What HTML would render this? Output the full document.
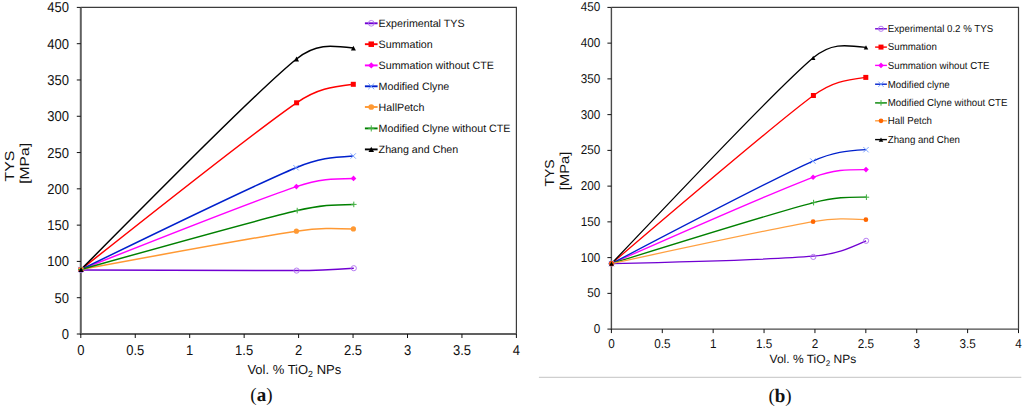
<!DOCTYPE html>
<html><head><meta charset="utf-8"><style>
html,body{margin:0;padding:0;background:#fff;}
body{width:1024px;height:409px;overflow:hidden;}
svg{display:block;text-rendering:geometricPrecision;font-family:"Liberation Sans", sans-serif;fill:#000;}
svg text{fill:#111;}
</style></head><body>
<svg width="1024" height="409" viewBox="0 0 1024 409">
<rect width="1024" height="409" fill="#fff"/>
<path d="M80.80,7.40 H516.40 V334.00" fill="none" stroke="#3c3c3c" stroke-width="1.2"/>
<path d="M81.00,270.10 C166.07,270.51 251.13,270.92 296.60,270.60 C320.64,270.43 333.24,269.58 353.80,268.20" fill="none" stroke="#7000d2" stroke-width="1.5" stroke-linejoin="round"/>
<path d="M81.00,269.50 C169.07,199.57 257.15,129.63 296.60,102.80 C317.31,88.71 330.99,87.04 353.30,84.30" fill="none" stroke="#ff0000" stroke-width="1.5" stroke-linejoin="round"/>
<path d="M81.00,269.50 C166.82,235.37 252.63,201.23 296.40,186.60 C319.38,178.92 332.34,178.72 353.50,178.40" fill="none" stroke="#ff00ff" stroke-width="1.5" stroke-linejoin="round"/>
<path d="M81.00,269.50 C166.95,227.59 252.89,185.68 296.00,167.70 C318.63,158.26 331.77,157.40 353.20,156.00" fill="none" stroke="#0020cc" stroke-width="1.5" stroke-linejoin="round"/>
<path d="M81.00,269.50 C166.13,253.71 251.26,237.93 296.40,231.20 C320.10,227.67 332.75,228.14 353.40,228.90" fill="none" stroke="#ff9933" stroke-width="1.5" stroke-linejoin="round"/>
<path d="M81.00,269.50 C166.95,245.34 252.89,221.17 297.20,210.60 C320.46,205.05 333.13,204.80 353.80,204.40" fill="none" stroke="#008000" stroke-width="1.5" stroke-linejoin="round"/>
<path d="M81.00,269.50 C170.77,178.87 260.53,88.24 296.50,59.00 C315.38,43.65 329.83,45.32 353.40,48.05" fill="none" stroke="#000" stroke-width="1.5" stroke-linejoin="round"/>
<path d="M80.80,7.40 V334.00 H516.40" fill="none" stroke="#606060" stroke-width="2"/>
<text transform="translate(69.00,339.00) scale(1,1.1)" text-anchor="end" font-size="13">0</text>
<text transform="translate(69.00,302.71) scale(1,1.1)" text-anchor="end" font-size="13">50</text>
<text transform="translate(69.00,266.42) scale(1,1.1)" text-anchor="end" font-size="13">100</text>
<text transform="translate(69.00,230.13) scale(1,1.1)" text-anchor="end" font-size="13">150</text>
<text transform="translate(69.00,193.84) scale(1,1.1)" text-anchor="end" font-size="13">200</text>
<text transform="translate(69.00,157.56) scale(1,1.1)" text-anchor="end" font-size="13">250</text>
<text transform="translate(69.00,121.27) scale(1,1.1)" text-anchor="end" font-size="13">300</text>
<text transform="translate(69.00,84.98) scale(1,1.1)" text-anchor="end" font-size="13">350</text>
<text transform="translate(69.00,48.69) scale(1,1.1)" text-anchor="end" font-size="13">400</text>
<text transform="translate(69.00,12.40) scale(1,1.1)" text-anchor="end" font-size="13">450</text>
<text transform="translate(80.80,354.70) scale(1,1.1)" text-anchor="middle" font-size="13">0</text>
<text transform="translate(135.25,354.70) scale(1,1.1)" text-anchor="middle" font-size="13">0.5</text>
<text transform="translate(189.70,354.70) scale(1,1.1)" text-anchor="middle" font-size="13">1</text>
<text transform="translate(244.15,354.70) scale(1,1.1)" text-anchor="middle" font-size="13">1.5</text>
<text transform="translate(298.60,354.70) scale(1,1.1)" text-anchor="middle" font-size="13">2</text>
<text transform="translate(353.05,354.70) scale(1,1.1)" text-anchor="middle" font-size="13">2.5</text>
<text transform="translate(407.50,354.70) scale(1,1.1)" text-anchor="middle" font-size="13">3</text>
<text transform="translate(461.95,354.70) scale(1,1.1)" text-anchor="middle" font-size="13">3.5</text>
<text transform="translate(516.40,354.70) scale(1,1.1)" text-anchor="middle" font-size="13">4</text>
<path d="M76.80,334.00 H80.80 M76.80,297.71 H80.80 M76.80,261.42 H80.80 M76.80,225.13 H80.80 M76.80,188.84 H80.80 M76.80,152.56 H80.80 M76.80,116.27 H80.80 M76.80,79.98 H80.80 M76.80,43.69 H80.80 M76.80,7.40 H80.80 M80.80,334.00 V338.00 M135.25,334.00 V338.00 M189.70,334.00 V338.00 M244.15,334.00 V338.00 M298.60,334.00 V338.00 M353.05,334.00 V338.00 M407.50,334.00 V338.00 M461.95,334.00 V338.00 M516.40,334.00 V338.00" stroke="#111" stroke-width="1" fill="none"/>
<circle cx="81.00" cy="270.10" r="2.60" fill="none" stroke="#b070f0" stroke-width="0.9"/>
<circle cx="296.60" cy="270.60" r="2.60" fill="none" stroke="#b070f0" stroke-width="0.9"/>
<circle cx="353.80" cy="268.20" r="2.60" fill="none" stroke="#b070f0" stroke-width="0.9"/>
<rect x="78.50" y="267.00" width="5.00" height="5.00" fill="#ff0000"/>
<rect x="294.10" y="100.30" width="5.00" height="5.00" fill="#ff0000"/>
<rect x="350.80" y="81.80" width="5.00" height="5.00" fill="#ff0000"/>
<path d="M81.00,266.70 L83.80,269.50 L81.00,272.30 L78.20,269.50Z" fill="#ff00ff"/>
<path d="M296.40,183.80 L299.20,186.60 L296.40,189.40 L293.60,186.60Z" fill="#ff00ff"/>
<path d="M353.50,175.60 L356.30,178.40 L353.50,181.20 L350.70,178.40Z" fill="#ff00ff"/>
<path d="M78.30,266.80 L83.70,272.20 M83.70,266.80 L78.30,272.20" stroke="#6f9bff" stroke-width="0.9" fill="none"/>
<path d="M293.30,165.00 L298.70,170.40 M298.70,165.00 L293.30,170.40" stroke="#6f9bff" stroke-width="0.9" fill="none"/>
<path d="M350.50,153.30 L355.90,158.70 M355.90,153.30 L350.50,158.70" stroke="#6f9bff" stroke-width="0.9" fill="none"/>
<circle cx="81.00" cy="269.50" r="2.60" fill="#ff9933" stroke="none"/>
<circle cx="296.40" cy="231.20" r="2.60" fill="#ff9933" stroke="none"/>
<circle cx="353.40" cy="228.90" r="2.60" fill="#ff9933" stroke="none"/>
<path d="M78.20,269.50 L83.80,269.50 M81.00,266.70 L81.00,272.30" stroke="#40b040" stroke-width="1" fill="none"/>
<path d="M294.40,210.60 L300.00,210.60 M297.20,207.80 L297.20,213.40" stroke="#40b040" stroke-width="1" fill="none"/>
<path d="M351.00,204.40 L356.60,204.40 M353.80,201.60 L353.80,207.20" stroke="#40b040" stroke-width="1" fill="none"/>
<path d="M81.00,267.10 L83.50,271.90 L78.50,271.90Z" fill="#000"/>
<path d="M296.50,56.60 L299.00,61.40 L294.00,61.40Z" fill="#000"/>
<path d="M353.40,45.65 L355.90,50.45 L350.90,50.45Z" fill="#000"/>
<text x="294.30" y="373.60" text-anchor="middle" font-size="13">Vol. % TiO<tspan font-size="8.8" dy="3.2">2</tspan><tspan dy="-3.2"> NPs</tspan></text>
<line x1="364.9" y1="23.3" x2="377.6" y2="23.3" stroke="#7000d2" stroke-width="1.9"/>
<circle cx="371.25" cy="23.30" r="2.86" fill="none" stroke="#b070f0" stroke-width="0.9"/>
<text transform="translate(378.6,27.15) scale(1.0,1)" font-size="10.7">Experimental TYS</text>
<line x1="364.9" y1="44.2" x2="377.6" y2="44.2" stroke="#ff0000" stroke-width="1.9"/>
<rect x="368.50" y="41.45" width="5.50" height="5.50" fill="#ff0000"/>
<text transform="translate(378.6,48.05) scale(1.0,1)" font-size="10.7">Summation</text>
<line x1="364.9" y1="65.4" x2="377.6" y2="65.4" stroke="#ff00ff" stroke-width="1.9"/>
<path d="M371.25,62.32 L374.33,65.40 L371.25,68.48 L368.17,65.40Z" fill="#ff00ff"/>
<text transform="translate(378.6,69.25) scale(1.0,1)" font-size="10.7">Summation without CTE</text>
<line x1="364.9" y1="86.3" x2="377.6" y2="86.3" stroke="#0020cc" stroke-width="1.9"/>
<path d="M368.28,83.33 L374.22,89.27 M374.22,83.33 L368.28,89.27" stroke="#6f9bff" stroke-width="0.9" fill="none"/>
<text transform="translate(378.6,90.15) scale(1.0,1)" font-size="10.7">Modified Clyne</text>
<line x1="364.9" y1="107.0" x2="377.6" y2="107.0" stroke="#ff9933" stroke-width="1.9"/>
<circle cx="371.25" cy="107.00" r="2.86" fill="#ff9933" stroke="none"/>
<text transform="translate(378.6,110.85) scale(1.0,1)" font-size="10.7">HallPetch</text>
<line x1="364.9" y1="128.4" x2="377.6" y2="128.4" stroke="#008000" stroke-width="1.9"/>
<path d="M368.17,128.40 L374.33,128.40 M371.25,125.32 L371.25,131.48" stroke="#40b040" stroke-width="1" fill="none"/>
<text transform="translate(378.6,132.25) scale(1.0,1)" font-size="10.7">Modified Clyne without CTE</text>
<line x1="364.9" y1="149.4" x2="377.6" y2="149.4" stroke="#000" stroke-width="1.9"/>
<path d="M371.25,146.76 L374.00,152.04 L368.50,152.04Z" fill="#000"/>
<text transform="translate(378.6,153.25) scale(1.0,1)" font-size="10.7">Zhang and Chen</text>
<text transform="translate(13.6,166) rotate(-90) scale(1.22,1)" text-anchor="middle" font-size="13">TYS</text><text transform="translate(28.8,163.4) rotate(-90) scale(1.2,1)" text-anchor="middle" font-size="13">[MPa]</text>
<path d="M611.40,7.40 H1018.50 V329.10" fill="none" stroke="#3c3c3c" stroke-width="1.2"/>
<path d="M611.50,263.60 C691.18,261.80 770.87,260.00 813.30,256.20 C836.31,254.14 847.63,249.07 866.10,240.80" fill="none" stroke="#7000d2" stroke-width="1.3" stroke-linejoin="round"/>
<path d="M611.50,263.60 C694.56,192.65 777.62,121.70 813.40,95.50 C832.19,81.74 844.96,80.09 865.80,77.40" fill="none" stroke="#ff0000" stroke-width="1.3" stroke-linejoin="round"/>
<path d="M611.50,263.60 C692.24,227.86 772.98,192.12 813.10,177.30 C834.16,169.52 846.26,169.55 866.00,169.60" fill="none" stroke="#ff00ff" stroke-width="1.3" stroke-linejoin="round"/>
<path d="M611.50,263.60 C692.37,221.22 773.24,178.85 812.90,161.10 C833.72,151.78 845.99,150.99 866.00,149.70" fill="none" stroke="#0020cc" stroke-width="1.3" stroke-linejoin="round"/>
<path d="M611.50,263.60 C692.01,238.45 772.51,213.30 813.60,202.60 C835.17,196.98 847.04,197.06 866.40,197.20" fill="none" stroke="#008000" stroke-width="1.3" stroke-linejoin="round"/>
<path d="M611.50,263.60 C691.47,246.24 771.45,228.89 813.10,221.70 C834.97,217.93 846.72,218.60 865.90,219.70" fill="none" stroke="#ffa040" stroke-width="1.3" stroke-linejoin="round"/>
<path d="M611.50,263.60 C695.94,174.65 780.38,85.69 813.20,57.80 C830.43,43.16 843.95,44.73 866.00,47.30" fill="none" stroke="#000" stroke-width="1.3" stroke-linejoin="round"/>
<path d="M611.40,7.40 V329.10 H1018.50" fill="none" stroke="#4a4a4a" stroke-width="1.4"/>
<text transform="translate(600.20,333.10) scale(1,1.09)" text-anchor="end" font-size="11.7">0</text>
<text transform="translate(600.20,297.36) scale(1,1.09)" text-anchor="end" font-size="11.7">50</text>
<text transform="translate(600.20,261.61) scale(1,1.09)" text-anchor="end" font-size="11.7">100</text>
<text transform="translate(600.20,225.87) scale(1,1.09)" text-anchor="end" font-size="11.7">150</text>
<text transform="translate(600.20,190.12) scale(1,1.09)" text-anchor="end" font-size="11.7">200</text>
<text transform="translate(600.20,154.38) scale(1,1.09)" text-anchor="end" font-size="11.7">250</text>
<text transform="translate(600.20,118.63) scale(1,1.09)" text-anchor="end" font-size="11.7">300</text>
<text transform="translate(600.20,82.89) scale(1,1.09)" text-anchor="end" font-size="11.7">350</text>
<text transform="translate(600.20,47.14) scale(1,1.09)" text-anchor="end" font-size="11.7">400</text>
<text transform="translate(600.20,11.40) scale(1,1.09)" text-anchor="end" font-size="11.7">450</text>
<text transform="translate(611.40,348.30) scale(1,1.09)" text-anchor="middle" font-size="11.7">0</text>
<text transform="translate(662.29,348.30) scale(1,1.09)" text-anchor="middle" font-size="11.7">0.5</text>
<text transform="translate(713.17,348.30) scale(1,1.09)" text-anchor="middle" font-size="11.7">1</text>
<text transform="translate(764.06,348.30) scale(1,1.09)" text-anchor="middle" font-size="11.7">1.5</text>
<text transform="translate(814.95,348.30) scale(1,1.09)" text-anchor="middle" font-size="11.7">2</text>
<text transform="translate(865.84,348.30) scale(1,1.09)" text-anchor="middle" font-size="11.7">2.5</text>
<text transform="translate(916.73,348.30) scale(1,1.09)" text-anchor="middle" font-size="11.7">3</text>
<text transform="translate(967.61,348.30) scale(1,1.09)" text-anchor="middle" font-size="11.7">3.5</text>
<text transform="translate(1018.50,348.30) scale(1,1.09)" text-anchor="middle" font-size="11.7">4</text>
<path d="M607.40,329.10 H611.40 M607.40,293.36 H611.40 M607.40,257.61 H611.40 M607.40,221.87 H611.40 M607.40,186.12 H611.40 M607.40,150.38 H611.40 M607.40,114.63 H611.40 M607.40,78.89 H611.40 M607.40,43.14 H611.40 M607.40,7.40 H611.40 M611.40,329.10 V333.10 M662.29,329.10 V333.10 M713.17,329.10 V333.10 M764.06,329.10 V333.10 M814.95,329.10 V333.10 M865.84,329.10 V333.10 M916.73,329.10 V333.10 M967.61,329.10 V333.10 M1018.50,329.10 V333.10" stroke="#111" stroke-width="1" fill="none"/>
<circle cx="611.50" cy="263.60" r="2.60" fill="none" stroke="#b070f0" stroke-width="0.9"/>
<circle cx="813.30" cy="256.90" r="2.60" fill="none" stroke="#b070f0" stroke-width="0.9"/>
<circle cx="866.10" cy="240.80" r="2.60" fill="none" stroke="#b070f0" stroke-width="0.9"/>
<rect x="609.00" y="261.10" width="5.00" height="5.00" fill="#ff0000"/>
<rect x="810.90" y="93.00" width="5.00" height="5.00" fill="#ff0000"/>
<rect x="863.30" y="74.90" width="5.00" height="5.00" fill="#ff0000"/>
<path d="M611.50,260.80 L614.30,263.60 L611.50,266.40 L608.70,263.60Z" fill="#ff00ff"/>
<path d="M813.10,174.50 L815.90,177.30 L813.10,180.10 L810.30,177.30Z" fill="#ff00ff"/>
<path d="M866.00,166.80 L868.80,169.60 L866.00,172.40 L863.20,169.60Z" fill="#ff00ff"/>
<path d="M608.80,260.90 L614.20,266.30 M614.20,260.90 L608.80,266.30" stroke="#6f9bff" stroke-width="0.9" fill="none"/>
<path d="M810.20,158.40 L815.60,163.80 M815.60,158.40 L810.20,163.80" stroke="#6f9bff" stroke-width="0.9" fill="none"/>
<path d="M863.30,147.00 L868.70,152.40 M868.70,147.00 L863.30,152.40" stroke="#6f9bff" stroke-width="0.9" fill="none"/>
<path d="M608.70,263.60 L614.30,263.60 M611.50,260.80 L611.50,266.40" stroke="#40b040" stroke-width="1" fill="none"/>
<path d="M810.80,202.60 L816.40,202.60 M813.60,199.80 L813.60,205.40" stroke="#40b040" stroke-width="1" fill="none"/>
<path d="M863.60,197.20 L869.20,197.20 M866.40,194.40 L866.40,200.00" stroke="#40b040" stroke-width="1" fill="none"/>
<circle cx="611.50" cy="263.60" r="2.34" fill="#ff6600" stroke="none"/>
<circle cx="813.10" cy="221.70" r="2.34" fill="#ff6600" stroke="none"/>
<circle cx="865.90" cy="219.70" r="2.34" fill="#ff6600" stroke="none"/>
<path d="M611.50,261.44 L613.75,265.76 L609.25,265.76Z" fill="#000"/>
<path d="M813.20,55.64 L815.45,59.96 L810.95,59.96Z" fill="#000"/>
<path d="M866.00,45.14 L868.25,49.46 L863.75,49.46Z" fill="#000"/>
<text x="812.90" y="362.90" text-anchor="middle" font-size="12">Vol. % TiO<tspan font-size="8.2" dy="3.0">2</tspan><tspan dy="-3.0"> NPs</tspan></text>
<line x1="875.1" y1="28.8" x2="886.9" y2="28.8" stroke="#7000d2" stroke-width="1.4"/>
<circle cx="881.00" cy="28.80" r="2.60" fill="none" stroke="#b070f0" stroke-width="0.9"/>
<text transform="translate(887.8,32.10) scale(0.951,1)" font-size="10.2">Experimental 0.2 % TYS</text>
<line x1="875.1" y1="47.1" x2="886.9" y2="47.1" stroke="#ff0000" stroke-width="1.4"/>
<rect x="878.50" y="44.60" width="5.00" height="5.00" fill="#ff0000"/>
<text transform="translate(887.8,50.40) scale(0.951,1)" font-size="10.2">Summation</text>
<line x1="875.1" y1="65.4" x2="886.9" y2="65.4" stroke="#ff00ff" stroke-width="1.4"/>
<path d="M881.00,62.60 L883.80,65.40 L881.00,68.20 L878.20,65.40Z" fill="#ff00ff"/>
<text transform="translate(887.8,68.70) scale(0.951,1)" font-size="10.2">Summation wihout CTE</text>
<line x1="875.1" y1="84.2" x2="886.9" y2="84.2" stroke="#0020cc" stroke-width="1.4"/>
<path d="M878.30,81.50 L883.70,86.90 M883.70,81.50 L878.30,86.90" stroke="#6f9bff" stroke-width="0.9" fill="none"/>
<text transform="translate(887.8,87.50) scale(0.951,1)" font-size="10.2">Modified clyne</text>
<line x1="875.1" y1="102.9" x2="886.9" y2="102.9" stroke="#008000" stroke-width="1.4"/>
<path d="M878.20,102.90 L883.80,102.90 M881.00,100.10 L881.00,105.70" stroke="#40b040" stroke-width="1" fill="none"/>
<text transform="translate(887.8,106.20) scale(0.951,1)" font-size="10.2">Modified Clyne without CTE</text>
<line x1="875.1" y1="120.8" x2="886.9" y2="120.8" stroke="#ffa040" stroke-width="1.4"/>
<circle cx="881.00" cy="120.80" r="2.34" fill="#ff6600" stroke="none"/>
<text transform="translate(887.8,124.10) scale(0.951,1)" font-size="10.2">Hall Petch</text>
<line x1="875.1" y1="139.6" x2="886.9" y2="139.6" stroke="#000" stroke-width="1.4"/>
<path d="M881.00,137.44 L883.25,141.76 L878.75,141.76Z" fill="#000"/>
<text transform="translate(887.8,142.90) scale(0.951,1)" font-size="10.2">Zhang and Chen</text>
<text transform="translate(553.9,173) rotate(-90) scale(1.07,1)" text-anchor="middle" font-size="13">TYS</text><text transform="translate(569.2,170.9) rotate(-90) scale(1.14,1)" text-anchor="middle" font-size="13">[MPa]</text>
<line x1="538.9" y1="377.4" x2="1021.3" y2="377.4" stroke="#cfcfcf" stroke-width="1.2"/>
<text x="261.4" y="401.3" text-anchor="middle" font-family="'Liberation Serif', serif" font-size="19">(<tspan font-weight="bold">a</tspan>)</text>
<text x="780.0" y="401.5" text-anchor="middle" font-family="'Liberation Serif', serif" font-size="19">(<tspan font-weight="bold">b</tspan>)</text>
</svg>
</body></html>
